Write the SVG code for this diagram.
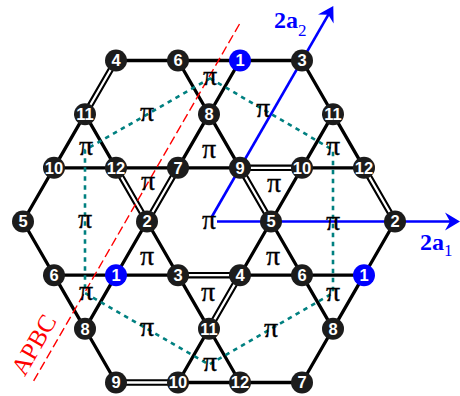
<svg xmlns="http://www.w3.org/2000/svg" width="460" height="396" viewBox="0 0 460 396">
<defs>
<style>
.e{stroke:#000;stroke-width:3.3;fill:none;stroke-linejoin:round}
.d{stroke:#000;stroke-width:6.5;fill:none}
.dw{stroke:#fff;stroke-width:2.3;fill:none}
.teal{stroke:#008080;stroke-width:2.6;fill:none;stroke-dasharray:4.5 4.5}
.red{stroke:#ff0000;stroke-width:1.4;fill:none;stroke-dasharray:9 4}
.vec{stroke:#0000ff;stroke-width:2.6;fill:none;marker-end:url(#arr)}
.n circle{fill:#1c1c1c}
.n.b circle{fill:#0000ff}
.n text{fill:#fff;font-family:"Liberation Sans",Arial,sans-serif;font-weight:bold;font-size:16.5px;text-anchor:middle}
.pi{font-family:"Liberation Serif","Times New Roman",serif;font-size:28px;text-anchor:middle;fill:#000;stroke:#000;stroke-width:0.3}
.lbl{font-family:"Liberation Serif","Times New Roman",serif;font-weight:bold;fill:#0000ff;font-size:24px}
.sub{font-weight:normal;font-size:17px}
.apbc{font-family:"Liberation Serif","Times New Roman",serif;fill:#ff0000;font-size:25px;text-anchor:middle}
</style>
<marker id="arr" markerUnits="userSpaceOnUse" markerWidth="16" markerHeight="20" viewBox="0 0 16 20" refX="6" refY="10" orient="auto"><path d="M15,10 L0,1 L5,10 L0,19 Z" fill="#0000ff"/></marker>
</defs>
<g id="connectors">
<path class="e" d="M116,60.5 H302 M178,60.5 L209,114.2 L240,60.5 M302,60.5 L333,114.2 M54,167.8 L85,114.2 L116,167.8 M178,167.8 L209,114.2 L240,167.8 M302,167.8 L333,114.2 L364,167.8 M54,167.8 H240 M302,167.8 H364 M54,167.8 L23,221.5 L54,275.2 M302,167.8 L271,221.5 M116,275.2 L147,221.5 L178,275.2 M240,275.2 L271,221.5 L302,275.2 M395,221.5 L364,275.2 M54,275.2 H178 M240,275.2 H364 M54,275.2 L85,328.8 L116,275.2 M178,275.2 L209,328.8 M302,275.2 L333,328.8 L364,275.2 M85,328.8 L116,382.5 M178,382.5 L209,328.8 L240,382.5 M333,328.8 L302,382.5 M178,382.5 H302"/>
<path class="d" d="M116,60.5 L85,114.2 M240,167.8 H302 M116,167.8 L147,221.5 M178,167.8 L147,221.5 M240,167.8 L271,221.5 M364,167.8 L395,221.5 M178,275.2 H240 M240,275.2 L209,328.8 M116,382.5 H178"/>
<path class="dw" d="M116,60.5 L85,114.2 M240,167.8 H302 M116,167.8 L147,221.5 M178,167.8 L147,221.5 M240,167.8 L271,221.5 M364,167.8 L395,221.5 M178,275.2 H240 M240,275.2 L209,328.8 M116,382.5 H178"/>
<path class="teal" d="M210,78.4 L333,150 L333,293 L209,364.6 L85,293 L85,150 Z"/>
<line class="red" x1="239.5" y1="24" x2="33" y2="382"/>
<line class="vec" x1="217" y1="221.5" x2="451" y2="221.5"/>
<line class="vec" x1="212" y1="216.5" x2="328.8" y2="13.9"/>
</g>
<g id="nodes">
<g id="n4a" class="n"><circle cx="116" cy="60.5" r="11"/><text x="116" y="66.4">4</text></g>
<g id="n6a" class="n"><circle cx="178" cy="60.5" r="11"/><text x="178" y="66.4">6</text></g>
<g id="n1a" class="n b"><circle cx="240" cy="60.5" r="11"/><text x="240" y="66.4">1</text></g>
<g id="n3a" class="n"><circle cx="302" cy="60.5" r="11"/><text x="302" y="66.4">3</text></g>
<g id="n11a" class="n"><circle cx="85" cy="114.2" r="11"/><text x="85" y="120.1">11</text></g>
<g id="n8a" class="n"><circle cx="209" cy="114.2" r="11"/><text x="209" y="120.1">8</text></g>
<g id="n11b" class="n"><circle cx="333" cy="114.2" r="11"/><text x="333" y="120.1">11</text></g>
<g id="n10a" class="n"><circle cx="54" cy="167.8" r="11"/><text x="54" y="173.7">10</text></g>
<g id="n12a" class="n"><circle cx="116" cy="167.8" r="11"/><text x="116" y="173.7">12</text></g>
<g id="n7a" class="n"><circle cx="178" cy="167.8" r="11"/><text x="178" y="173.7">7</text></g>
<g id="n9a" class="n"><circle cx="240" cy="167.8" r="11"/><text x="240" y="173.7">9</text></g>
<g id="n10b" class="n"><circle cx="302" cy="167.8" r="11"/><text x="302" y="173.7">10</text></g>
<g id="n12b" class="n"><circle cx="364" cy="167.8" r="11"/><text x="364" y="173.7">12</text></g>
<g id="n5a" class="n"><circle cx="23" cy="221.5" r="11"/><text x="23" y="227.4">5</text></g>
<g id="n2a" class="n"><circle cx="147" cy="221.5" r="11"/><text x="147" y="227.4">2</text></g>
<g id="n5b" class="n"><circle cx="271" cy="221.5" r="11"/><text x="271" y="227.4">5</text></g>
<g id="n2b" class="n"><circle cx="395" cy="221.5" r="11"/><text x="395" y="227.4">2</text></g>
<g id="n6b" class="n"><circle cx="54" cy="275.2" r="11"/><text x="54" y="281.1">6</text></g>
<g id="n1b" class="n b"><circle cx="116" cy="275.2" r="11"/><text x="116" y="281.1">1</text></g>
<g id="n3b" class="n"><circle cx="178" cy="275.2" r="11"/><text x="178" y="281.1">3</text></g>
<g id="n4b" class="n"><circle cx="240" cy="275.2" r="11"/><text x="240" y="281.1">4</text></g>
<g id="n6c" class="n"><circle cx="302" cy="275.2" r="11"/><text x="302" y="281.1">6</text></g>
<g id="n1c" class="n b"><circle cx="364" cy="275.2" r="11"/><text x="364" y="281.1">1</text></g>
<g id="n8b" class="n"><circle cx="85" cy="328.8" r="11"/><text x="85" y="334.7">8</text></g>
<g id="n11c" class="n"><circle cx="209" cy="328.8" r="11"/><text x="209" y="334.7">11</text></g>
<g id="n8c" class="n"><circle cx="333" cy="328.8" r="11"/><text x="333" y="334.7">8</text></g>
<g id="n9b" class="n"><circle cx="116" cy="382.5" r="11"/><text x="116" y="388.4">9</text></g>
<g id="n10c" class="n"><circle cx="178" cy="382.5" r="11"/><text x="178" y="388.4">10</text></g>
<g id="n12c" class="n"><circle cx="240" cy="382.5" r="11"/><text x="240" y="388.4">12</text></g>
<g id="n7b" class="n"><circle cx="302" cy="382.5" r="11"/><text x="302" y="388.4">7</text></g>
</g>
<g id="pis" class="pi">
<text x="210" y="85">π</text>
<text x="147" y="121">π</text>
<text x="263" y="117">π</text>
<text x="86" y="155">π</text>
<text x="209" y="158">π</text>
<text x="333" y="155">π</text>
<text x="148" y="190">π</text>
<text x="274" y="192">π</text>
<text x="85" y="228">π</text>
<text x="209" y="229">π</text>
<text x="333" y="230">π</text>
<text x="147" y="265">π</text>
<text x="273" y="265">π</text>
<text x="86" y="300">π</text>
<text x="208" y="301">π</text>
<text x="333" y="301">π</text>
<text x="147" y="336">π</text>
<text x="271" y="337">π</text>
<text x="210" y="371">π</text>
</g>
<g id="labels">
<text class="lbl" x="420" y="250">2a<tspan class="sub" dy="6">1</tspan></text>
<text class="lbl" x="274" y="28">2a<tspan class="sub" dy="8">2</tspan></text>
<text class="apbc" transform="translate(41,349) rotate(-60)" x="0" y="0">APBC</text>
</g>
</svg>
